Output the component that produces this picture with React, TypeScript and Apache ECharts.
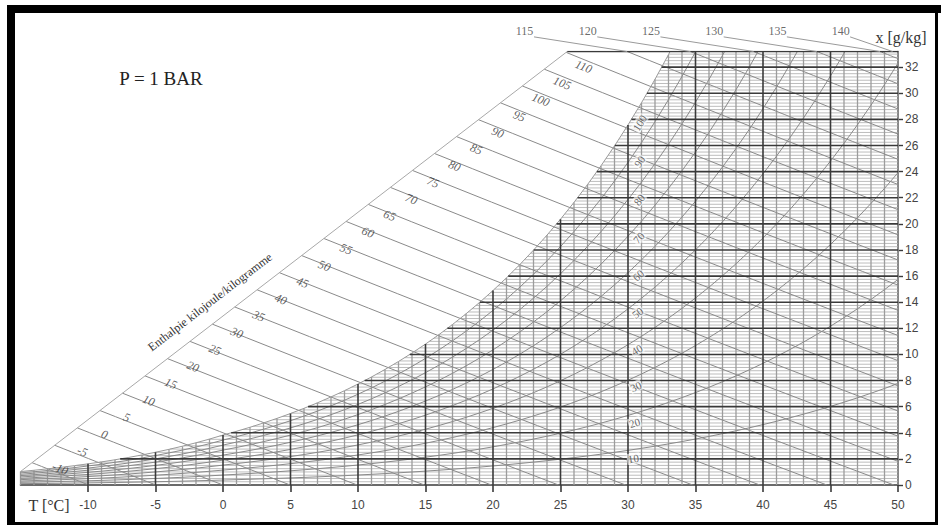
import { useEffect, useRef } from "react";
import * as echarts from "echarts";

// ---------------- data ----------------
const PRESSURE_KPA = 100; // P = 1 bar
const T_MIN = -15;
const T_MAX = 50;
const X_TOP = 33.2; // g/kg at the top border
const T_TICKS = [-10, -5, 0, 5, 10, 15, 20, 25, 30, 35, 40, 45, 50];
const X_TICKS = [0, 2, 4, 6, 8, 10, 12, 14, 16, 18, 20, 22, 24, 26, 28, 30, 32];
// saturation vapour pressure table (kPa), one value per degree
const SAT_TEMPS = [
  -15, -14, -13, -12, -11, -10, -9, -8, -7, -6, -5, -4, -3, -2, -1, 0, 1, 2, 3, 4, 5, 6, 7, 8, 9, 10,
  11, 12, 13, 14, 15, 16, 17, 18, 19, 20, 21, 22, 23, 24, 25, 26, 27, 28, 29, 30, 31, 32, 33, 34, 35,
  36, 37, 38, 39, 40, 41, 42, 43, 44, 45, 46, 47, 48, 49, 50,
];
const SAT_PRESSURE_KPA = [
  0.1652, 0.1811, 0.1984, 0.2172, 0.2376, 0.2597, 0.2837, 0.3097, 0.3379, 0.3685, 0.4015, 0.4372,
  0.4757, 0.5173, 0.5623, 0.6112, 0.6571, 0.706, 0.7581, 0.8135, 0.8725, 0.9353, 1.002, 1.0729,
  1.1481, 1.2281, 1.3128, 1.4027, 1.4979, 1.5988, 1.7056, 1.8185, 1.938, 2.0644, 2.1978, 2.3388,
  2.4877, 2.6447, 2.8104, 2.985, 3.169, 3.3629, 3.567, 3.7818, 4.0078, 4.2455, 4.4953, 4.7578,
  5.0335, 5.3229, 5.6267, 5.9453, 6.2795, 6.6298, 6.9969, 7.3814, 7.784, 8.2054, 8.6463, 9.1075,
  9.5898, 10.094, 10.62, 11.171, 11.745, 12.344,
];
const ENTHALPY_SIDE = [
  -10, -5, 0, 5, 10, 15, 20, 25, 30, 35, 40, 45, 50, 55, 60, 65, 70, 75, 80, 85, 90, 95, 100, 105, 110,
];
const ENTHALPY_TOP = [115, 120, 125, 130, 135, 140];
const RH_CURVES = [10, 20, 30, 40, 50, 60, 70, 80, 90];
const RH_LABELS = [10, 20, 30, 40, 50, 60, 70, 80, 90, 100];
const BOUNDARY_TOP_T = 25.5; // where the enthalpy start line meets the top border

// grid steps
const MINOR_T = 1;
const MINOR_X = 0.25;
const MAJOR_T = 5;
const MAJOR_X = 2;

// ---------------- layout ----------------
const W = 941;
const H = 526;
const GRID = { left: 20.5, right: 43, top: 51.5, bottom: 41 };
const PX_T = (W - GRID.left - GRID.right) / (T_MAX - T_MIN);
const PX_X = (H - GRID.top - GRID.bottom) / X_TOP;
const SERIF = '"Liberation Serif", "Times New Roman", serif';
const SANS = '"Liberation Sans", Arial, sans-serif';

// ---------------- psychrometrics ----------------
function ps(T: number) {
  const f = T - SAT_TEMPS[0];
  let i = Math.floor(f);
  if (i < 0) i = 0;
  if (i > SAT_TEMPS.length - 2) i = SAT_TEMPS.length - 2;
  const r = f - i;
  return SAT_PRESSURE_KPA[i] * (1 - r) + SAT_PRESSURE_KPA[i + 1] * r;
}
function humidity(phi: number, T: number) {
  const p = phi * ps(T);
  return (622 * p) / (PRESSURE_KPA - p);
}
function enthalpy(T: number, x: number) {
  return 1.006 * T + x * (2.501 + 0.00186 * T);
}
function tOnH(h: number, x: number) {
  return (h - 2.501 * x) / (1.006 + 0.00186 * x);
}
function tSat(x: number) {
  for (let i = 0; i < SAT_TEMPS.length - 1; i++) {
    const x0 = humidity(1, SAT_TEMPS[i]);
    const x1 = humidity(1, SAT_TEMPS[i + 1]);
    if (x <= x1) return SAT_TEMPS[i] + ((x - x0) / (x1 - x0)) * (SAT_TEMPS[i + 1] - SAT_TEMPS[i]);
  }
  return T_MAX;
}
function curve(phi: number) {
  const pts: number[][] = [];
  for (const T of SAT_TEMPS) {
    const x = humidity(phi, T);
    if (x > X_TOP) {
      const prev = pts[pts.length - 1];
      const t = prev[0] + ((X_TOP - prev[1]) / (x - prev[1])) * (T - prev[0]);
      pts.push([t, X_TOP]);
      break;
    }
    pts.push([T, x]);
  }
  return pts;
}
const XB0 = humidity(1, T_MIN);
function xb(T: number) {
  return XB0 + ((T - T_MIN) * (X_TOP - XB0)) / (BOUNDARY_TOP_T - T_MIN);
}
function boundaryT(h: number) {
  let lo = T_MIN;
  let hi = BOUNDARY_TOP_T;
  for (let k = 0; k < 50; k++) {
    const m = (lo + hi) / 2;
    if (enthalpy(m, xb(m)) < h) lo = m;
    else hi = m;
  }
  return (lo + hi) / 2;
}
function hLine(h: number) {
  let xs0: number;
  if (h <= enthalpy(BOUNDARY_TOP_T, X_TOP)) {
    xs0 = xb(boundaryT(h));
  } else {
    xs0 = X_TOP;
    if (tOnH(h, X_TOP) > T_MAX) return null;
  }
  const xEnd = tOnH(h, 0) <= T_MAX ? 0 : (h - 1.006 * T_MAX) / (2.501 + 0.00186 * T_MAX);
  const pts: number[][] = [];
  for (let k = 0; k <= 12; k++) {
    const x = xs0 + ((xEnd - xs0) * k) / 12;
    pts.push([tOnH(h, x), x]);
  }
  return pts;
}

function buildOption() {
  const isMajorT = (T: number) => Math.abs(T / MAJOR_T - Math.round(T / MAJOR_T)) < 1e-6;
  const isMajorX = (x: number) => Math.abs(x / MAJOR_X - Math.round(x / MAJOR_X)) < 1e-6;

  const vMinor: number[][][] = [];
  const vMajor: number[][][] = [];
  for (let T = T_MIN; T <= T_MAX + 1e-9; T += MINOR_T) {
    const top = Math.min(humidity(1, T), X_TOP);
    const seg = [
      [T, 0],
      [T, top],
    ];
    if (isMajorT(T) && T > T_MIN && T < T_MAX) vMajor.push(seg);
    else vMinor.push(seg);
  }
  const hMinor: number[][][] = [];
  const hMajor: number[][][] = [];
  for (let k = 1; k * MINOR_X <= X_TOP; k++) {
    const x = k * MINOR_X;
    const start = x <= XB0 ? T_MIN : tSat(x);
    const seg = [
      [start, x],
      [T_MAX, x],
    ];
    if (isMajorX(x)) hMajor.push(seg);
    else hMinor.push(seg);
  }

  const enthalpyLines: number[][][] = [];
  for (const h of [...ENTHALPY_SIDE, ...ENTHALPY_TOP]) {
    const l = hLine(h);
    if (l) enthalpyLines.push(l);
  }
  const rhLines = RH_CURVES.map((p) => curve(p / 100));
  const sat = curve(1);
  const boundary = [
    [T_MIN, XB0],
    [BOUNDARY_TOP_T, X_TOP],
  ];
  const topBorder = [
    [BOUNDARY_TOP_T, X_TOP],
    [T_MAX, X_TOP],
  ];

  // enthalpy labels along the start line
  const hLabels = ENTHALPY_SIDE.map((v) => {
    const he = v + 0.8 - 0.02 * v;
    const T = boundaryT(he) + 1.75;
    const x = (he - 1.006 * T) / (2.501 + 0.00186 * T);
    const dTdx = (2.501 + 0.00186 * T) / (1.006 + 0.00186 * x);
    const rot = (-Math.atan(PX_X / (PX_T * dTdx)) * 180) / Math.PI;
    return { name: String(v), value: [T, x], label: { rotate: rot } };
  });

  // top enthalpy labels with leaders
  const leaders: number[][][] = [];
  const topLabels = ENTHALPY_TOP.map((v) => {
    const tTop = tOnH(v, X_TOP);
    leaders.push([
      [tTop - 6.9, X_TOP + 1.12],
      [Math.min(tTop, T_MAX - 0.4), X_TOP],
    ]);
    return { name: String(v), value: [tTop - 7.6, X_TOP + 1.55] };
  });

  // relative humidity labels near 30 °C
  const rhLabels = RH_LABELS.map((p) => {
    const phi = p / 100;
    const T0 = 30.3;
    const x0 = humidity(phi, T0);
    const slope = humidity(phi, T0 + 0.5) - humidity(phi, T0 - 0.5);
    const th = Math.atan((slope * PX_X) / PX_T);
    const off = 9;
    return {
      name: String(p),
      value: [T0 + (off * Math.sin(th)) / PX_T, x0 - (off * Math.cos(th)) / PX_X],
      label: { rotate: (th * 180) / Math.PI },
    };
  });

  const linesSeries = (data: number[][][], color: string, width: number, z: number, extra: any = {}) => ({
    type: "lines",
    coordinateSystem: "cartesian2d",
    polyline: true,
    silent: true,
    z,
    lineStyle: { color, width, opacity: 1, curveness: 0 },
    data: data.map((c) => ({ coords: c })),
    ...extra,
  });

  const labelSeries = (data: any[], label: any, z: number) => ({
    type: "scatter",
    symbolSize: 1,
    silent: true,
    clip: false,
    z,
    itemStyle: { color: "rgba(0,0,0,0)" },
    label: {
      show: true,
      position: "inside",
      formatter: "{b}",
      textBorderWidth: 0,
      textBorderColor: "transparent",
      ...label,
    },
    data,
  });

  return {
    animation: false,
    backgroundColor: "#ffffff",
    grid: { ...GRID, containLabel: false },
    xAxis: {
      type: "value",
      min: T_MIN,
      max: T_MAX,
      interval: 5,
      axisLine: { show: true, onZero: false, lineStyle: { color: "#3a3a3a", width: 1.6 } },
      axisTick: { show: true, customValues: T_TICKS, length: 7, lineStyle: { color: "#3a3a3a", width: 1.6 } },
      axisLabel: { customValues: T_TICKS, margin: 14, fontFamily: SANS, fontSize: 12, color: "#444" },
      splitLine: { show: false },
    },
    yAxis: {
      type: "value",
      position: "right",
      min: 0,
      max: X_TOP,
      interval: 2,
      axisLine: { show: true, onZero: false, lineStyle: { color: "#3a3a3a", width: 1.6 } },
      axisTick: { show: true, customValues: X_TICKS, length: 5, lineStyle: { color: "#3a3a3a", width: 1.4 } },
      axisLabel: { customValues: X_TICKS, margin: 7, fontFamily: SANS, fontSize: 12, color: "#444" },
      splitLine: { show: false },
    },
    series: [
      linesSeries(hMinor, "#bdbdbd", 1, 1),
      linesSeries(vMinor, "#9c9c9c", 1.3, 2),
      linesSeries(enthalpyLines, "#8a8a8a", 1, 3),
      linesSeries(rhLines, "#8a8a8a", 1, 3),
      linesSeries([sat], "#9a9a9a", 1, 3),
      linesSeries([boundary], "#a8a8a8", 1, 3),
      linesSeries(vMajor, "#3a3a3a", 1.6, 4),
      linesSeries(hMajor, "#3a3a3a", 1.6, 4),
      linesSeries([topBorder], "#3a3a3a", 1.6, 4),
      linesSeries(leaders, "#9a9a9a", 1, 4, { clip: false }),
      labelSeries(hLabels, { fontFamily: SERIF, fontStyle: "italic", fontSize: 12, color: "#333" }, 10),
      labelSeries(topLabels, { fontFamily: SERIF, fontSize: 12, color: "#444" }, 10),
      labelSeries(
        rhLabels,
        { fontFamily: SERIF, fontSize: 11, color: "#444", backgroundColor: "rgba(255,255,255,0.75)", padding: [0, 1] },
        10
      ),
    ],
    graphic: [
      { type: "rect", shape: { x: 7, y: 5, width: 934, height: 8 }, style: { fill: "#000" }, silent: true },
      { type: "rect", shape: { x: 7, y: 5, width: 8, height: 520 }, style: { fill: "#000" }, silent: true },
      { type: "rect", shape: { x: 935, y: 5, width: 3, height: 520 }, style: { fill: "#000" }, silent: true },
      { type: "rect", shape: { x: 7, y: 522, width: 931, height: 3 }, style: { fill: "#000" }, silent: true },
      {
        type: "text",
        x: 161,
        y: 78,
        silent: true,
        style: { text: "P = 1 BAR", font: `19px ${SERIF}`, fill: "#222", textAlign: "center", textVerticalAlign: "middle", align: "center", verticalAlign: "middle" },
      },
      {
        type: "text",
        x: 49,
        y: 505,
        silent: true,
        style: { text: "T [°C]", font: `16px ${SERIF}`, fill: "#333", textAlign: "center", textVerticalAlign: "middle", align: "center", verticalAlign: "middle" },
      },
      {
        type: "text",
        x: 901,
        y: 37,
        silent: true,
        style: { text: "x [g/kg]", font: `16px ${SERIF}`, fill: "#333", textAlign: "center", textVerticalAlign: "middle", align: "center", verticalAlign: "middle" },
      },
      {
        type: "text",
        x: 210,
        y: 302,
        rotation: 0.655,
        silent: true,
        style: { text: "Enthalpie kilojoule/kilogramme", font: `12px ${SERIF}`, fill: "#333", textAlign: "center", textVerticalAlign: "middle", align: "center", verticalAlign: "middle" },
      },
    ],
  };
}

export default function App() {
  const ref = useRef<HTMLDivElement>(null);
  useEffect(() => {
    const chart = echarts.init(ref.current!, undefined, { renderer: "svg" });
    chart.setOption(buildOption() as any);
    return () => chart.dispose();
  }, []);
  return (
    <div
      ref={ref}
      style={{ position: "fixed", left: 0, top: 0, width: W, height: H, background: "#fff" }}
    />
  );
}
